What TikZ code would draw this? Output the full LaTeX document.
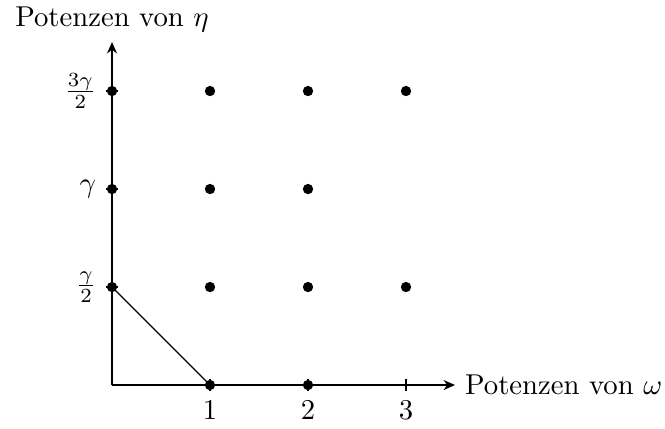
\documentclass[tikz,border=0pt]{standalone}
\usepackage{amssymb}
\usetikzlibrary{arrows.meta}

\begin{document}
\begin{tikzpicture}[x=1.2cm,y=1.2cm,pkt/.style={circle,fill,inner sep=0pt,minimum size=3.6pt}]
\useasboundingbox(-1.143,-.439)rectangle(5.643,3.929);
\coordinate(o)at(0,0);\coordinate(xe)at(3.5,0);\coordinate(ye)at(0,3.5);
\draw[-{Stealth[length=4pt,width=3.5pt]}](o)--(xe)node[right](xl){Potenzen von $\omega$};
\draw[-{Stealth[length=4pt,width=3.5pt]}](o)--(ye)node[above](yl){Potenzen von $\eta$};
\foreach\i in{1,2,3}{\draw(\i,2pt)--(\i,-2pt)node[below](xt\i){$\i$};}
\foreach\i/\l in{1/{\frac{\gamma}{2}},2/\gamma,3/{\frac{3\gamma}{2}}}{\draw(2pt,\i)--(-2pt,\i)node[left](yt\i){$\l$};}
\foreach\x/\y in{1/0,2/0,0/1,1/1,2/1,3/1,0/2,1/2,2/2,0/3,1/3,2/3,3/3}{\node[pkt](p\x\y)at(\x,\y){};}
\draw(p01.center)--(p10.center);
\end{tikzpicture}
\end{document}
